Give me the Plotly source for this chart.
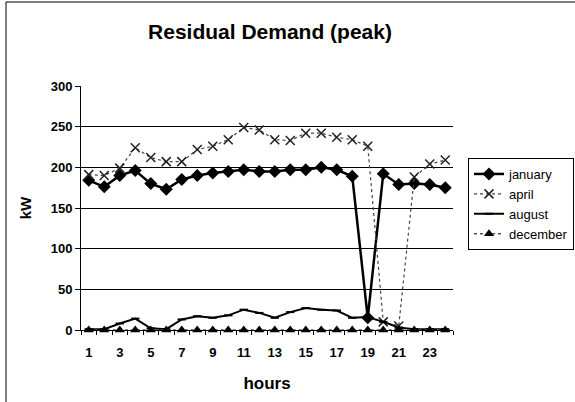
import plotly.graph_objects as go

hours = list(range(1, 25))
january = [184, 176, 190, 196, 180, 173, 185, 190, 193, 195, 197, 195, 195, 197, 197, 200, 197, 189, 15, 192, 179, 180, 179, 175]
april = [191, 190, 199, 224, 212, 207, 207, 222, 226, 234, 249, 246, 234, 233, 242, 242, 237, 234, 226, 10, 5, 188, 204, 209]
august = [1, 1, 8, 14, 2, 1, 13, 17, 15, 18, 25, 21, 15, 22, 27, 25, 24, 15, 16, 10, 3, 1, 1, 1]
december = [0] * 24
x_tick_labels = [str(h) for h in range(1, 25, 2)]

FONT = "Liberation Sans, Arial, sans-serif"

fig = go.Figure()
fig.add_trace(go.Scatter(
    x=hours, y=january, name="january", mode="lines+markers",
    line=dict(color="black", width=2.5),
    marker=dict(symbol="diamond", size=10, color="black"),
    cliponaxis=False,
))
fig.add_trace(go.Scatter(
    x=hours, y=april, name="april", mode="lines+markers",
    line=dict(color="#444444", width=1.2, dash="dot"),
    marker=dict(symbol="x-thin", size=9, color="#222222", line=dict(width=1.5, color="#222222")),
    cliponaxis=False,
))
fig.add_trace(go.Scatter(
    x=hours, y=august, name="august", mode="lines+markers",
    line=dict(color="black", width=2),
    marker=dict(symbol="line-ew", size=6, color="black", line=dict(width=2, color="black")),
    cliponaxis=False,
))
fig.add_trace(go.Scatter(
    x=hours, y=december, name="december", mode="lines+markers",
    line=dict(color="#555555", width=1.5, dash="dot"),
    marker=dict(symbol="triangle-up", size=9, color="black"),
    cliponaxis=False,
))

fig.update_layout(
    width=575, height=402,
    margin=dict(l=81, r=122, t=86, b=72, autoexpand=False),
    paper_bgcolor="white", plot_bgcolor="white",
    font=dict(family=FONT, color="black"),
    title=dict(text="<b>Residual Demand (peak)</b>", x=270 / 575, xanchor="center",
               y=1 - 32 / 402, yanchor="middle", font=dict(size=21, family=FONT, color="black")),
    showlegend=True,
    legend=dict(x=(468 - 81) / 372, xanchor="left", y=(330 - 158) / 244, yanchor="top",
                bordercolor="black", borderwidth=1, bgcolor="white",
                font=dict(size=13, family=FONT, color="black"),
                itemwidth=30, tracegroupgap=0),
    xaxis=dict(
        range=[0.5, 24.5], showgrid=False, zeroline=False,
        showline=True, linecolor="black", linewidth=1,
        tickmode="array", tickvals=list(range(1, 25, 2)), ticktext=x_tick_labels,
        ticks="", ticklabelstandoff=10,
        tickfont=dict(size=13, family=FONT, color="black", weight="bold"),
        minor=dict(tickmode="array", tickvals=[h + 0.5 for h in range(0, 25)],
                   ticks="outside", ticklen=4, tickcolor="black", tickwidth=1, showgrid=False),
        title=dict(text="<b>hours</b>", font=dict(size=17, family=FONT, color="black"), standoff=18),
    ),
    yaxis=dict(
        range=[0, 300], tickvals=[0, 50, 100, 150, 200, 250, 300],
        showgrid=True, gridcolor="black", gridwidth=1, zeroline=False,
        showline=True, linecolor="black", linewidth=1,
        ticks="outside", ticklen=5, tickcolor="black",
        tickfont=dict(size=13, family=FONT, color="black", weight="bold"),
        title=dict(text="<b>kW</b>", font=dict(size=15, family=FONT, color="black"), standoff=15),
    ),
    shapes=[
        dict(type="line", xref="paper", yref="paper",
             x0=(6 - 81) / 372, x1=(6 - 81) / 372, y0=(330 - 2) / 244, y1=(330 - 402) / 244,
             line=dict(color="black", width=1)),
        dict(type="line", xref="paper", yref="paper",
             x0=(6 - 81) / 372, x1=(575 - 81) / 372, y0=(330 - 2) / 244, y1=(330 - 2) / 244,
             line=dict(color="black", width=1)),
    ],
)

fig.write_html("out.html", config={"displayModeBar": False},
               post_script="document.body.style.margin='0';document.body.style.overflow='hidden';")
